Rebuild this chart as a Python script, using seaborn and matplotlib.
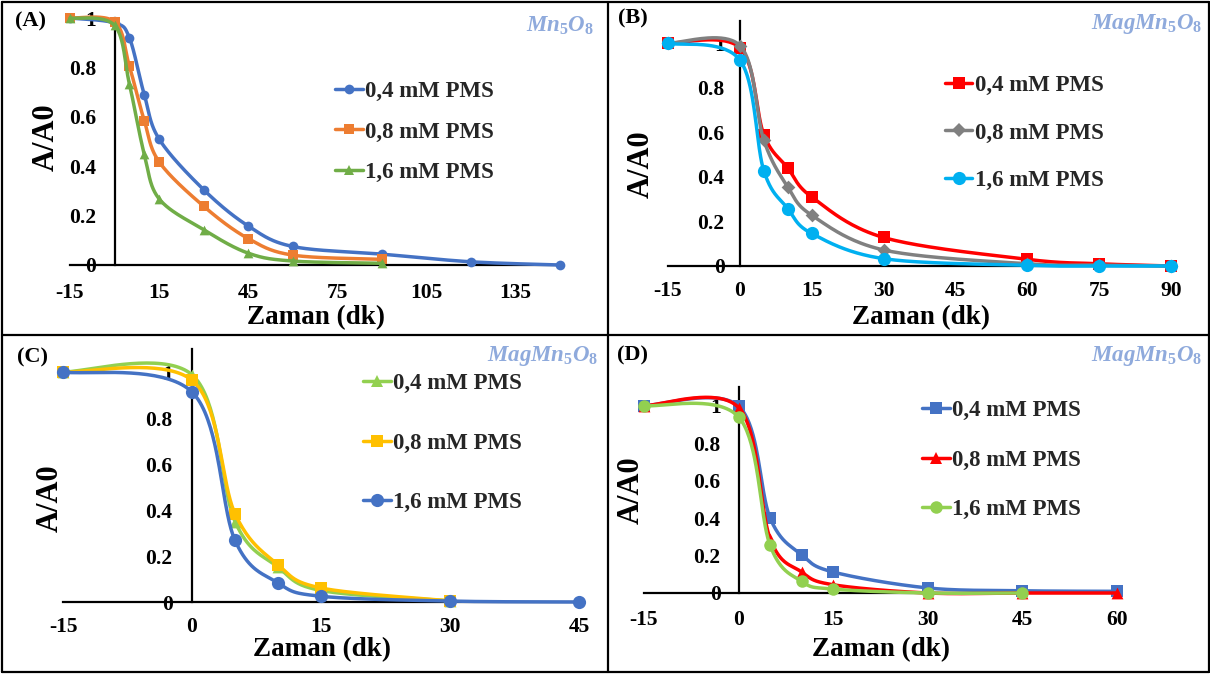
import numpy as np
import matplotlib
matplotlib.use("Agg")
import matplotlib.pyplot as plt
import seaborn as sns
from matplotlib.lines import Line2D

# ---------------- data ----------------
# (A) Mn5O8
t_a_long = [-15, 0, 5, 10, 15, 30, 45, 60, 90, 120, 150]
t_a = [-15, 0, 5, 10, 15, 30, 45, 60, 90]
a_04 = [1.00, 0.98, 0.92, 0.69, 0.51, 0.305, 0.158, 0.075, 0.044, 0.013, 0.0]
a_08 = [1.00, 0.985, 0.805, 0.585, 0.418, 0.238, 0.107, 0.040, 0.023]
a_16 = [1.00, 0.97, 0.733, 0.449, 0.268, 0.143, 0.048, 0.016, 0.007]

# (B) MagMn5O8
t_b = [-15, 0, 5, 10, 15, 30, 60, 75, 90]
b_04 = [1.00, 0.98, 0.59, 0.44, 0.31, 0.128, 0.030, 0.010, 0.0]
b_08 = [1.00, 0.99, 0.565, 0.355, 0.228, 0.072, 0.010, 0.004, 0.0]
b_16 = [1.00, 0.925, 0.428, 0.258, 0.146, 0.033, 0.003, 0.0, 0.0]

# (C) MagMn5O8
t_c = [-15, 0, 5, 10, 15, 30]
t_c_long = [-15, 0, 5, 10, 15, 30, 45]
c_04 = [1.00, 0.988, 0.35, 0.152, 0.050, 0.005]
c_08 = [1.00, 0.964, 0.384, 0.162, 0.061, 0.005]
c_16 = [1.00, 0.913, 0.268, 0.083, 0.025, 0.004, 0.0]

# (D) MagMn5O8
t_d = [-15, 0, 5, 10, 15, 30, 45, 60]
t_d_short = [-15, 0, 5, 10, 15, 30, 45]
d_04 = [1.00, 0.998, 0.40, 0.204, 0.112, 0.027, 0.012, 0.009]
d_08 = [1.00, 0.99, 0.29, 0.112, 0.044, 0.0, 0.0, 0.0]
d_16 = [1.00, 0.94, 0.254, 0.062, 0.021, 0.0, 0.0]

labels = ["0,4 mM PMS", "0,8 mM PMS", "1,6 mM PMS"]
y_ticks = [0, 0.2, 0.4, 0.6, 0.8, 1.0]
y_ticklabels = ["0", "0.2", "0.4", "0.6", "0.8", "1"]

# ---------------- style ----------------
sns.set_theme(style="white")
plt.rcParams["font.family"] = ["Liberation Serif", "DejaVu Serif"]
plt.rcParams["font.weight"] = "bold"
plt.rcParams["axes.labelweight"] = "bold"
plt.rcParams["mathtext.fontset"] = "custom"
plt.rcParams["mathtext.it"] = "Liberation Serif:italic:bold"
plt.rcParams["mathtext.rm"] = "Liberation Serif:bold"
plt.rcParams["mathtext.bf"] = "Liberation Serif:bold"

W, H = 1210, 675
fig = plt.figure(figsize=(W / 100, H / 100), dpi=100)
fig.patch.set_facecolor("white")


def fx(px):
    return px / W


def fy(py):
    return 1 - py / H


def px_axes(left, right, top, bottom):
    return fig.add_axes([fx(left), fy(bottom), (right - left) / W, (bottom - top) / H])


def smooth(x, y, n=40):
    """Bezier smoothing through every point (Catmull-Rom style control points)."""
    pts = np.column_stack([x, y]).astype(float)
    p = np.vstack([pts[0], pts, pts[-1]])
    out = []
    t = np.linspace(0, 1, n)[:, None]
    for i in range(1, len(p) - 2):
        p0, p1, p2, p3 = p[i - 1], p[i], p[i + 1], p[i + 2]
        c1 = p1 + (p2 - p0) / 6
        c2 = p2 - (p3 - p1) / 6
        seg = (1 - t) ** 3 * p1 + 3 * (1 - t) ** 2 * t * c1 + 3 * (1 - t) * t ** 2 * c2 + t ** 3 * p2
        out.append(seg if i == 1 else seg[1:])
    arr = np.vstack(out)
    return arr[:, 0], arr[:, 1]


def panel(ax, series, xlim, ylim, xticks, xpad, ypad, leg_x, leg_y, leg_space,
          xlabel_pos, ylabel_pos, tag, tag_pos, material, mat_pos):
    handles = []
    for i, (x, y, color, marker, ms, label) in enumerate(series):
        cx, cy = smooth(x, y)
        sns.lineplot(x=cx, y=cy, sort=False, estimator=None, color=color,
                     linewidth=2.5, ax=ax, legend=False, zorder=3 + 2 * i)
        sns.scatterplot(x=x, y=y, marker=marker, s=ms ** 2, color=color,
                        edgecolor=color, linewidth=0, ax=ax, legend=False,
                        zorder=4 + 2 * i)
        handles.append(Line2D([0], [0], color=color, lw=2.5, marker=marker,
                              markersize=ms, markeredgewidth=0, label=label))
    for art in ax.lines + ax.collections:
        art.set_clip_on(False)

    ax.set_xlim(*xlim)
    ax.set_ylim(*ylim)
    ax.set_xticks(xticks)
    ax.set_xticklabels([str(v) for v in xticks])
    ax.set_yticks(y_ticks)
    ax.set_yticklabels(y_ticklabels)
    ax.patch.set_visible(False)
    for side in ("top", "right"):
        ax.spines[side].set_visible(False)
    ax.spines["left"].set_position(("data", 0))
    ax.spines["bottom"].set_position(("data", 0))
    for side in ("left", "bottom"):
        ax.spines[side].set_color("black")
        ax.spines[side].set_linewidth(1.6)
        ax.spines[side].set_zorder(2)
    ax.tick_params(axis="x", length=0, pad=xpad, labelsize=15.5, colors="black")
    ax.tick_params(axis="y", length=0, pad=ypad, labelsize=15.5, colors="black")

    ax.set_xlabel("Zaman (dk)", fontsize=19.5, color="black")
    ax.xaxis.set_label_coords(fx(xlabel_pos[0]), fy(xlabel_pos[1]), transform=fig.transFigure)
    ax.xaxis.label.set_va("center")
    ax.set_ylabel("A/A0", fontsize=22, color="black")
    ax.yaxis.set_label_coords(fx(ylabel_pos[0]), fy(ylabel_pos[1]), transform=fig.transFigure)
    ax.yaxis.label.set_va("center")

    ax.legend(handles=handles, loc="center left",
              bbox_to_anchor=(fx(leg_x), fy(leg_y)), bbox_transform=fig.transFigure,
              frameon=False, borderpad=0, borderaxespad=0, handlelength=1.2,
              handletextpad=0.1, labelspacing=leg_space,
              prop={"family": "Liberation Serif", "weight": "bold", "size": 16.5})

    fig.text(fx(tag_pos[0]), fy(tag_pos[1]), tag, ha="center", va="center",
             fontsize=16, fontweight="bold", color="black")
    fig.text(fx(mat_pos[0]), fy(mat_pos[1]), material, ha="right", va="center",
             fontsize=16.5, color="#8FAADC")


# ---------------- panels ----------------
ax_a = px_axes(70, 560, 18, 265)
panel(ax_a,
      [(t_a_long, a_04, "#4472C4", "o", 7, labels[0]),
       (t_a, a_08, "#ED7D31", "s", 6.5, labels[1]),
       (t_a, a_16, "#70AD47", "^", 7, labels[2])],
      xlim=(-15, 150), ylim=(0, 1.0), xticks=[-15, 15, 45, 75, 105, 135],
      xpad=13, ypad=13, leg_x=335, leg_y=132, leg_space=0.86,
      xlabel_pos=(316, 318), ylabel_pos=(46, 137), tag="(A)", tag_pos=(31, 21),
      material=r"$\mathit{Mn_5O_8}$", mat_pos=(594, 26))

ax_b = px_axes(668, 1171, 21, 266)
panel(ax_b,
      [(t_b, b_04, "#FF0000", "s", 9, labels[0]),
       (t_b, b_08, "#808080", "D", 7, labels[1]),
       (t_b, b_16, "#00B0F0", "o", 9.5, labels[2])],
      xlim=(-15, 90), ylim=(0, 1.1), xticks=[-15, 0, 15, 30, 45, 60, 75, 90],
      xpad=11, ypad=11, leg_x=945, leg_y=133, leg_space=1.17,
      xlabel_pos=(921, 318), ylabel_pos=(641, 164), tag="(B)", tag_pos=(633, 18),
      material=r"$\mathit{MagMn_5O_8}$", mat_pos=(1202, 24))

ax_c = px_axes(63, 579, 349, 602)
panel(ax_c,
      [(t_c, c_04, "#92D050", "^", 8.5, labels[0]),
       (t_c, c_08, "#FFC000", "s", 9, labels[1]),
       (t_c_long, c_16, "#4472C4", "o", 9.5, labels[2])],
      xlim=(-15, 45), ylim=(0, 1.1), xticks=[-15, 0, 15, 30, 45],
      xpad=10.5, ypad=14, leg_x=363, leg_y=443, leg_space=1.67,
      xlabel_pos=(322, 650), ylabel_pos=(50, 498), tag="(C)", tag_pos=(33, 357),
      material=r"$\mathit{MagMn_5O_8}$", mat_pos=(598, 356))

ax_d = px_axes(644, 1117, 387, 593)
panel(ax_d,
      [(t_d, d_04, "#4472C4", "s", 8.5, labels[0]),
       (t_d, d_08, "#FF0000", "^", 8.5, labels[1]),
       (t_d_short, d_16, "#92D050", "o", 9, labels[2])],
      xlim=(-15, 60), ylim=(0, 1.1), xticks=[-15, 0, 15, 30, 45, 60],
      xpad=12.5, ypad=13, leg_x=922, leg_y=460, leg_space=1.24,
      xlabel_pos=(881, 650), ylabel_pos=(631, 490), tag="(D)", tag_pos=(633, 355),
      material=r"$\mathit{MagMn_5O_8}$", mat_pos=(1202, 356))

# ---------------- panel frames ----------------
frame_kw = dict(color="black", linewidth=1.6, transform=fig.transFigure)
for xs, ys in [((1.5, 1208.5), (1.5, 1.5)), ((1.5, 1208.5), (672, 672)),
               ((1.5, 1.5), (1.5, 672)), ((1208.5, 1208.5), (1.5, 672)),
               ((608, 608), (1.5, 672)), ((1.5, 1208.5), (335, 335))]:
    fig.add_artist(Line2D([fx(xs[0]), fx(xs[1])], [fy(ys[0]), fy(ys[1])], **frame_kw))

fig.savefig("out.png", dpi=100, facecolor="white")
